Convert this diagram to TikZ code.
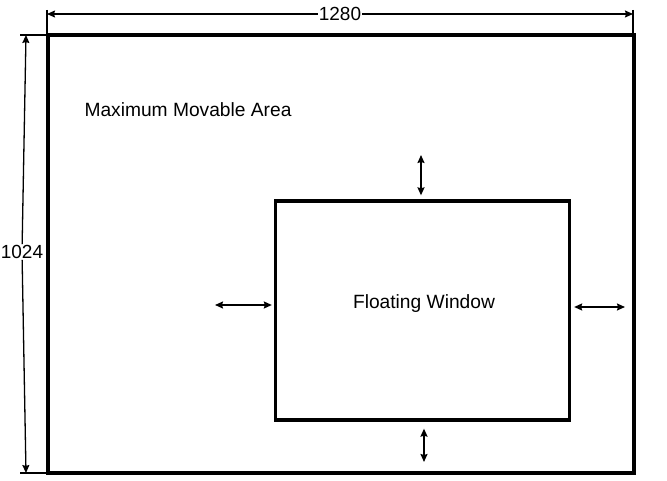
\documentclass[tikz,border=0pt]{standalone}
\usepackage{fontspec}
\setmainfont{Liberation Sans}
\usetikzlibrary{arrows.meta}

\begin{document}
\begin{tikzpicture}[line cap=butt, line join=miter, x=1pt, y=-1pt,
    >={Stealth[length=8pt,width=7pt,inset=1pt]},
    frame/.style={draw, line width=3.3pt, inner sep=0pt},
    dimline/.style={line width=1.3pt},
    move/.style={line width=1.6pt, <->},
    dimtext/.style={fill=white, inner sep=1pt, font=\fontsize{19}{21}\selectfont},
    label/.style={font=\fontsize{19.2}{21}\selectfont}]
  \useasboundingbox (0,0) rectangle (667,481);
  % Screen area and the floating window inside it.
  \node[frame, minimum width=586pt, minimum height=438pt] (area) at (341,254) {};
  \node[frame, minimum width=294pt, minimum height=219pt] (win) at (422.5,310.5) {};
  \node[label, anchor=west] (areatext) at (81,110) {Maximum Movable Area};
  \node[label] (wintext) at (424,304) {Floating Window};
  % Width dimension.
  \node[dimtext] (wdim) at (340,14) {1280};
  \coordinate (wl) at (47,14);
  \coordinate (wr) at (633,14);
  \draw[dimline, ->] (wdim) -- (wl);
  \draw[dimline, ->] (wdim) -- (wr);
  \draw[dimline] (47,10) -- (47,35);
  \draw[dimline] (633,10) -- (633,35);
  % Height dimension.
  \node[dimtext] (hdim) at (22,252) {1024};
  \coordinate (ht) at (26,35);
  \coordinate (hb) at (26,473);
  \draw[dimline, ->] (hdim) -- (ht);
  \draw[dimline, ->] (hdim) -- (hb);
  \draw[dimline] (20,35) -- (47,35);
  \draw[dimline] (20,473) -- (47,473);
  % Directions the window can be moved.
  \coordinate (mleft) at (215,305);
  \coordinate (mright) at (625,307);
  \coordinate (mtop) at (421,155);
  \coordinate (mbottom) at (424,462);
  \draw[move] (mleft) -- ([xshift=-2pt]win.west |- mleft);
  \draw[move] ([xshift=3pt]win.east |- mright) -- (mright);
  \draw[move] (mtop) -- ([yshift=4pt]win.north -| mtop);
  \draw[move] ([yshift=-7pt]win.south -| mbottom) -- (mbottom);
\end{tikzpicture}
\end{document}
